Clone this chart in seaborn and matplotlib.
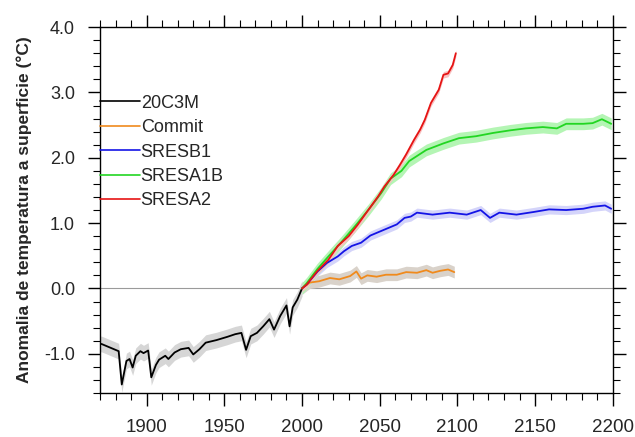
import numpy as np
import pandas as pd
import matplotlib
matplotlib.use('Agg')
import matplotlib.pyplot as plt
from matplotlib.ticker import MultipleLocator
import seaborn as sns

# 20C3M (historico)
years_20c = [1870, 1871, 1877, 1882, 1884, 1887, 1889, 1891, 1893, 1896, 1898, 1901, 1903, 1906,
             1908, 1912, 1914, 1918, 1922, 1927, 1930, 1934, 1938, 1945, 1952, 1957, 1961, 1964,
             1967, 1971, 1975, 1979, 1982, 1986, 1990, 1992, 1994, 1997, 2000]
vals_20c = [-0.85, -0.85, -0.91, -0.96, -1.47, -1.11, -1.08, -1.21, -1.03, -0.96, -0.99, -0.95, -1.36, -1.17,
            -1.09, -1.03, -1.08, -0.98, -0.93, -0.91, -1.01, -0.93, -0.83, -0.79, -0.74, -0.70, -0.68, -0.94,
            -0.73, -0.68, -0.58, -0.47, -0.63, -0.42, -0.26, -0.58, -0.29, -0.17, 0.0]

# Commit
years_commit = [2000, 2005, 2011, 2018, 2024, 2031, 2035, 2038, 2042, 2048, 2054, 2061, 2067,
                2074, 2080, 2084, 2089, 2094, 2098]
vals_commit = [0.0, 0.09, 0.11, 0.16, 0.14, 0.19, 0.26, 0.15, 0.20, 0.18, 0.21, 0.21, 0.25,
               0.24, 0.28, 0.24, 0.27, 0.29, 0.25]

# SRESB1
years_b1 = [2000, 2003, 2010, 2016, 2023, 2027, 2032, 2038, 2044, 2050, 2056, 2061, 2066, 2070,
            2074, 2084, 2095, 2106, 2115, 2121, 2127, 2138, 2149, 2159, 2170, 2181, 2187, 2195, 2199]
vals_b1 = [0.0, 0.06, 0.26, 0.39, 0.49, 0.57, 0.65, 0.70, 0.81, 0.87, 0.93, 0.98, 1.08, 1.10,
           1.16, 1.13, 1.16, 1.13, 1.20, 1.08, 1.16, 1.13, 1.17, 1.21, 1.20, 1.22, 1.25, 1.27, 1.22]

# SRESA1B
years_a1b = [2000, 2003, 2010, 2017, 2025, 2034, 2043, 2051, 2057, 2064, 2069, 2080, 2091, 2101,
             2112, 2123, 2134, 2144, 2155, 2164, 2170, 2181, 2187, 2193, 2199]
vals_a1b = [0.0, 0.08, 0.30, 0.49, 0.70, 0.95, 1.21, 1.46, 1.68, 1.80, 1.95, 2.12, 2.22, 2.30,
            2.33, 2.38, 2.42, 2.45, 2.47, 2.45, 2.52, 2.52, 2.53, 2.59, 2.52]

# SRESA2
years_a2 = [2000, 2003, 2010, 2017, 2023, 2030, 2036, 2042, 2049, 2053, 2059, 2063, 2067, 2072,
            2076, 2079, 2083, 2088, 2091, 2094, 2097, 2099]
vals_a2 = [0.0, 0.06, 0.27, 0.44, 0.65, 0.80, 0.98, 1.18, 1.41, 1.56, 1.74, 1.89, 2.05, 2.27,
           2.43, 2.58, 2.84, 3.04, 3.27, 3.29, 3.42, 3.60]

labels = ['20C3M', 'Commit', 'SRESB1', 'SRESA1B', 'SRESA2']
line_colors = ['black', '#f08a1c', '#1414e6', '#22d622', '#e61414']
band_colors = ['#d6d6d6', '#d9d2ca', '#d4d4fa', '#b4f5b4', '#f8c0c0']
spreads = [0.12, 0.09, 0.07, 0.09, 0.05]

series = [(years_20c, vals_20c), (years_commit, vals_commit), (years_b1, vals_b1),
          (years_a1b, vals_a1b), (years_a2, vals_a2)]

sns.set_style('ticks')
plt.rcParams['font.family'] = ['Liberation Sans', 'DejaVu Sans']

fig = plt.figure(figsize=(6.35, 4.37), dpi=100)
ax = fig.add_axes([0.1575, 0.1007, 0.8075, 0.8373])

ax.axhline(0, color='#9a9a9a', lw=0.8, zorder=1)

for (yrs, vals), sp, bc in zip(series, spreads, band_colors):
    v = np.array(vals)
    ax.fill_between(yrs, v - sp, v + sp, color=bc, lw=0, zorder=2)

for (yrs, vals), lab, lc in zip(series, labels, line_colors):
    df = pd.DataFrame({'ano': yrs, 'anom': vals})
    sns.lineplot(data=df, x='ano', y='anom', color=lc, lw=1.3, label=lab, ax=ax, zorder=3)

ax.set_xlim(1870, 2200)
ax.set_ylim(-1.6, 4.0)
ax.xaxis.set_minor_locator(MultipleLocator(10))
ax.yaxis.set_minor_locator(MultipleLocator(0.2))
ax.set_xticks([1900, 1950, 2000, 2050, 2100, 2150, 2200])
ax.set_yticks([-1.0, 0.0, 1.0, 2.0, 3.0, 4.0])
ax.set_yticklabels(['-1.0', '0.0', '1.0', '2.0', '3.0', '4.0'])
ax.tick_params(which='both', direction='out', top=True, right=True, color='black')
ax.tick_params(which='major', length=9, width=1)
ax.tick_params(which='minor', length=5, width=0.8)
ax.tick_params(axis='x', which='major', pad=9.5, labelsize=13.5)
ax.tick_params(axis='y', which='major', pad=9, labelsize=13)
for s in ax.spines.values():
    s.set_visible(True)
    s.set_color('black')
    s.set_linewidth(1)

ax.set_xlabel('')
ax.set_ylabel('Anomalia de temperatura a superficie (°C)', fontsize=12.5, fontweight='bold')
ax.yaxis.set_label_coords(-0.133, 0.5)

leg = ax.legend(loc='upper left', bbox_to_anchor=(0, 0.815), frameon=False, fontsize=13,
                handlelength=2.2, handletextpad=0.05, labelspacing=0.41,
                borderpad=0, borderaxespad=0)
for h in leg.get_lines():
    h.set_linewidth(1.2)

fig.savefig('out.png', dpi=100)
